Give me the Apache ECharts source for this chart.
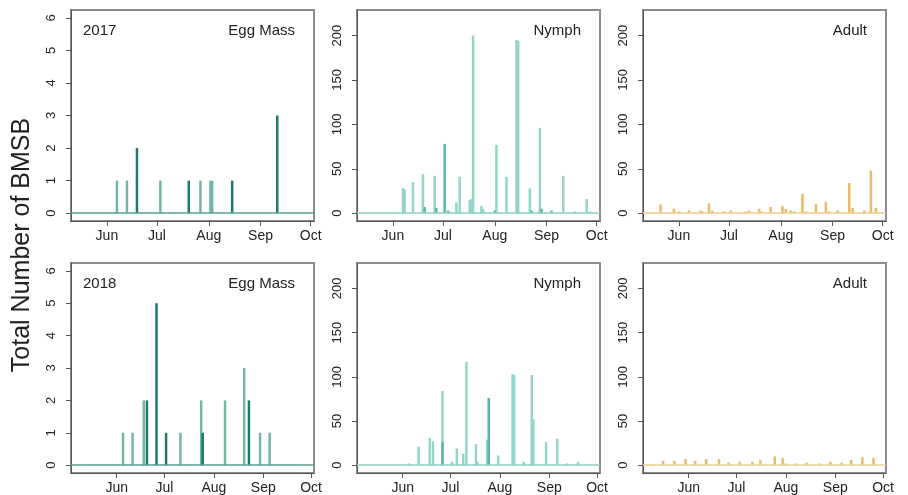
<!DOCTYPE html>
<html>
<head>
<meta charset="utf-8">
<script src="https://cdn.jsdelivr.net/npm/echarts@6/dist/echarts.min.js"></script>
<style>
html,body{margin:0;padding:0;background:#fff;}
#chart{width:908px;height:495px;}
</style>
</head>
<body>
<div id="chart"></div>
<script>
// ---------- data ----------
const years = ['2017', '2018'];
const stageLabels = ['Egg Mass', 'Nymph', 'Adult'];
const yTitle = 'Total Number of BMSB';
const monthLabels = ['Jun', 'Jul', 'Aug', 'Sep', 'Oct'];
const monthTicks2017 = ['2017-06-01', '2017-07-01', '2017-08-01', '2017-09-01', '2017-10-01'];
const monthTicks2018 = ['2018-06-01', '2018-07-01', '2018-08-01', '2018-09-01', '2018-10-01'];
const eggTicks = [0, 1, 2, 3, 4, 5, 6];
const countTicks = [0, 50, 100, 150, 200];

// 2017 egg masses
const egg2017A = [['2017-06-07',1],['2017-06-13',1],['2017-07-03',1],['2017-07-27',1],['2017-08-02',1],['2017-08-03',1]];
const egg2017B = [['2017-06-19',2],['2017-07-20',1],['2017-08-15',1],['2017-09-11',3]];
// 2017 nymphs
const nymph2017A = [['2017-06-07',28],['2017-06-08',27],['2017-06-13',35],['2017-06-19',44],['2017-06-26',42],
  ['2017-07-09',12],['2017-07-11',41],['2017-07-17',15],['2017-07-18',16],['2017-07-19',200],['2017-07-24',8],
  ['2017-07-25',5],['2017-08-02',77],['2017-08-08',41],['2017-08-14',195],['2017-08-15',194],['2017-08-22',28],
  ['2017-08-28',96],['2017-09-11',42],['2017-09-18',2],['2017-09-25',16],['2017-09-27',2]];
const nymph2017B = [['2017-06-20',7],['2017-06-27',6],['2017-07-02',78],['2017-07-04',3],['2017-08-01',3],
  ['2017-08-23',3],['2017-08-29',5],['2017-09-04',3]];
// 2017 adults
const adult2017 = [['2017-05-17',1],['2017-05-21',10],['2017-05-29',5],['2017-06-01',2],['2017-06-07',3],
  ['2017-06-14',3],['2017-06-15',2],['2017-06-19',11],['2017-06-21',3],['2017-06-28',2],['2017-07-02',3],
  ['2017-07-11',2],['2017-07-13',3],['2017-07-19',5],['2017-07-20',2],['2017-07-26',7],['2017-08-02',8],
  ['2017-08-04',5],['2017-08-07',3],['2017-08-09',2],['2017-08-14',22],['2017-08-16',2],['2017-08-22',10],
  ['2017-08-28',13],['2017-08-30',2],['2017-09-04',3],['2017-09-11',34],['2017-09-13',6],['2017-09-20',3],
  ['2017-09-24',48],['2017-09-27',6]];
// 2018 egg masses
const egg2018A = [['2018-06-05',1],['2018-06-11',1],['2018-06-18',2],['2018-07-11',1],['2018-07-24',2],
  ['2018-08-08',2],['2018-08-20',3],['2018-08-30',1],['2018-09-05',1]];
const egg2018B = [['2018-06-20',2],['2018-06-26',5],['2018-07-02',1],['2018-07-25',1],['2018-08-23',2]];
// 2018 nymphs
const nymph2018A = [['2018-06-05',2],['2018-06-11',21],['2018-06-18',31],['2018-06-20',27],['2018-06-26',84],
  ['2018-07-02',4],['2018-07-05',19],['2018-07-09',13],['2018-07-11',117],['2018-07-17',24],['2018-07-18',4],
  ['2018-07-24',29],['2018-07-31',11],['2018-08-09',103],['2018-08-10',102],['2018-08-16',4],['2018-08-21',102],
  ['2018-08-22',52],['2018-08-30',26],['2018-09-06',30],['2018-09-12',2],['2018-09-19',4]];
const nymph2018B = [['2018-06-26',26],['2018-07-25',76]];
// 2018 adults
const adult2018 = [['2018-05-09',1],['2018-05-16',5],['2018-05-23',5],['2018-05-30',7],['2018-06-05',5],
  ['2018-06-12',7],['2018-06-20',7],['2018-06-26',3],['2018-07-03',4],['2018-07-11',4],['2018-07-16',6],
  ['2018-07-25',10],['2018-07-30',8],['2018-08-01',2],['2018-08-07',2],['2018-08-14',3],['2018-08-22',2],
  ['2018-08-29',4],['2018-09-05',3],['2018-09-11',6],['2018-09-18',9],['2018-09-25',8]];

// ---------- helpers ----------
function toTime(s) {
  const p = s.split('-').map(Number);
  return new Date(p[0], p[1] - 1, p[2]).getTime();
}
const xRange = {
  '2017': [new Date(2017, 4, 10, 12).getTime(), new Date(2017, 9, 3, 0).getTime()],
  '2018': [new Date(2018, 4, 3, 8).getTime(), new Date(2018, 9, 2, 20).getTime()]
};
const monthTicks = { '2017': monthTicks2017.map(toTime), '2018': monthTicks2018.map(toTime) };

const colLeft = [71, 357, 643];
const rowTop = [10, 263];
const gridW = 243, gridH = 211;

const COL = {
  eggLight: '#74b5aa', eggDark: '#1f7a6b', eggBase: '#54a293',
  nymph: '#95d4c9', nymphDark: '#5cb7a8', nymphBase: '#8fd1c5',
  adult: '#e6bc68', adultBase: '#edcd90'
};

const panels = [
  { year: '2017', stage: 0, sets: [[egg2017A, COL.eggLight], [egg2017B, COL.eggDark]], base: COL.eggBase, egg: true },
  { year: '2017', stage: 1, sets: [[nymph2017A, COL.nymph], [nymph2017B, COL.nymphDark]], base: COL.nymphBase },
  { year: '2017', stage: 2, sets: [[adult2017, COL.adult]], base: COL.adultBase },
  { year: '2018', stage: 0, sets: [[egg2018A, COL.eggLight], [egg2018B, COL.eggDark]], base: COL.eggBase, egg: true },
  { year: '2018', stage: 1, sets: [[nymph2018A, COL.nymph], [nymph2018B, COL.nymphDark]], base: COL.nymphBase },
  { year: '2018', stage: 2, sets: [[adult2018, COL.adult]], base: COL.adultBase }
];

const grids = [], xAxes = [], yAxes = [], series = [], graphics = [];
const axisColor = '#555';
const font = 'Liberation Sans, Arial, sans-serif';

panels.forEach((p, i) => {
  const r = Math.floor(i / 3), c = i % 3;
  grids.push({ left: colLeft[c], top: rowTop[r], width: gridW, height: gridH,
    show: true, borderColor: '#8c8c8c', borderWidth: 2, backgroundColor: 'transparent' });
  const mt = monthTicks[p.year];
  xAxes.push({
    type: 'value', gridIndex: i, min: xRange[p.year][0], max: xRange[p.year][1],
    splitLine: { show: false },
    axisLine: { show: true, onZero: false, lineStyle: { color: axisColor, width: 1 } },
    axisTick: { show: true, inside: false, length: 5, lineStyle: { color: axisColor }, customValues: mt },
    axisLabel: { show: true, customValues: mt, margin: 8, color: '#222', fontSize: 14, fontFamily: font,
      formatter: v => { const k = mt.indexOf(v); return k >= 0 ? monthLabels[k] : ''; } }
  });
  const ticks = p.egg ? eggTicks : countTicks;
  yAxes.push({
    type: 'value', gridIndex: i,
    min: p.egg ? -0.24 : -8.8, max: p.egg ? 6.24 : 228.8,
    splitLine: { show: false },
    axisLine: { show: true, onZero: false, lineStyle: { color: axisColor, width: 1 } },
    axisTick: { show: true, inside: false, length: 5, lineStyle: { color: axisColor }, customValues: ticks },
    axisLabel: { show: true, customValues: ticks, rotate: 90, margin: 13, color: '#222', fontSize: 13, fontFamily: font }
  });
  p.sets.forEach((set, k) => {
    const s = {
      type: 'bar', xAxisIndex: i, yAxisIndex: i, barWidth: 2.5, barGap: '-100%',
      itemStyle: { color: set[1] },
      data: set[0].map(d => [toTime(d[0]), d[1]]),
      animation: false
    };
    if (k === 0) {
      s.markLine = { silent: true, symbol: 'none', label: { show: false },
        lineStyle: { color: p.base, width: 1.5, type: 'solid' }, data: [{ yAxis: 0 }] };
    }
    series.push(s);
  });
  graphics.push({ type: 'text', x: colLeft[c] + gridW - 19, y: rowTop[r] + 21,
    style: { text: stageLabels[p.stage], textAlign: 'right', textVerticalAlign: 'middle',
      font: '15px ' + font, fill: '#222' } });
  if (p.stage === 0) {
    graphics.push({ type: 'text', x: colLeft[c] + 12, y: rowTop[r] + 21,
      style: { text: p.year, textAlign: 'left', textVerticalAlign: 'middle',
        font: '15px ' + font, fill: '#222' } });
  }
});

graphics.push({ type: 'text', x: 22, y: 245, rotation: Math.PI / 2,
  style: { text: yTitle, textAlign: 'center', textVerticalAlign: 'middle',
    font: '25px ' + font, fill: '#222' } });

const chart = echarts.init(document.getElementById('chart'), null, { renderer: 'canvas' });
chart.setOption({
  animation: false,
  grid: grids, xAxis: xAxes, yAxis: yAxes, series: series, graphic: graphics
});
</script>
</body>
</html>
